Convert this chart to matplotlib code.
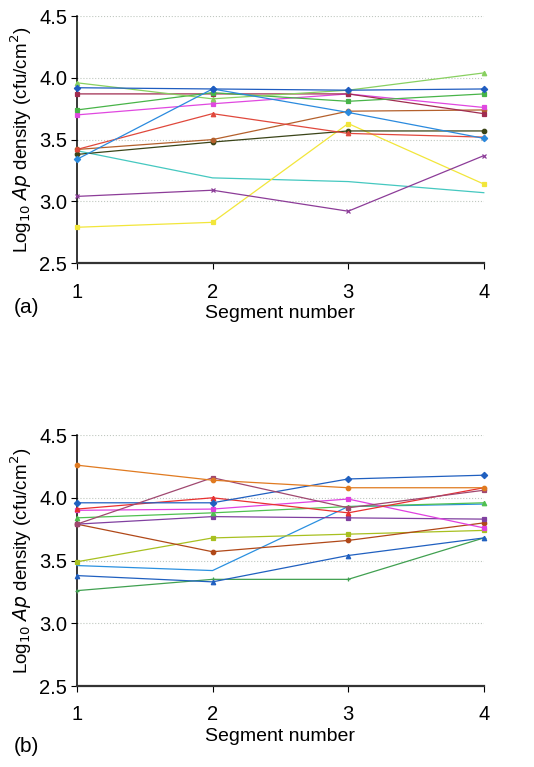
import matplotlib.pyplot as plt

plt.rcParams['font.family'] = ['Liberation Sans', 'DejaVu Sans']

segments = [1, 2, 3, 4]

# panel (a): one list per sample, log10 Ap density at segments 1-4
a_blue_dark = [3.92, 3.91, 3.90, 3.91]
a_blue_light = [3.34, 3.91, 3.72, 3.51]
a_green_light = [3.96, 3.83, 3.90, 4.04]
a_green = [3.74, 3.88, 3.81, 3.87]
a_maroon = [3.87, 3.87, 3.87, 3.71]
a_magenta = [3.70, 3.79, 3.87, 3.76]
a_red = [3.42, 3.71, 3.55, 3.52]
a_brown = [3.42, 3.50, 3.73, 3.74]
a_olive = [3.38, 3.48, 3.57, 3.57]
a_teal = [3.41, 3.19, 3.16, 3.07]
a_yellow = [2.79, 2.83, 3.63, 3.14]
a_purple = [3.04, 3.09, 2.92, 3.37]

# panel (b)
b_orange = [4.26, 4.14, 4.08, 4.08]
b_mauve = [3.79, 4.16, 3.92, 4.06]
b_blue_dark = [3.96, 3.96, 4.15, 4.18]
b_red = [3.91, 4.00, 3.88, 4.08]
b_magenta = [3.90, 3.91, 3.99, 3.76]
b_green = [3.84, 3.88, 3.93, 3.96]
b_purple = [3.79, 3.85, 3.84, 3.83]
b_rust = [3.79, 3.57, 3.66, 3.80]
b_lime = [3.49, 3.68, 3.71, 3.74]
b_blue_light = [3.46, 3.42, 3.93, 3.95]
b_blue = [3.38, 3.33, 3.54, 3.68]
b_green_plus = [3.26, 3.35, 3.35, 3.68]

series_a = [
    (a_teal, '#45c8c0', None),
    (a_yellow, '#f2e63a', 's'),
    (a_purple, '#8c3c98', 'x'),
    (a_olive, '#3a4418', 'o'),
    (a_brown, '#b4602c', 'o'),
    (a_red, '#e0483c', '^'),
    (a_magenta, '#e048e0', 's'),
    (a_maroon, '#a02c50', 's'),
    (a_green, '#48b448', 's'),
    (a_green_light, '#88d060', '^'),
    (a_blue_light, '#2a8ade', 'D'),
    (a_blue_dark, '#1f5cc0', 'D'),
]

series_b = [
    (b_green_plus, '#40a050', '+'),
    (b_blue, '#2060c0', '^'),
    (b_blue_light, '#2a90e0', None),
    (b_lime, '#a8c020', 's'),
    (b_rust, '#b04818', 'o'),
    (b_purple, '#8040a0', 's'),
    (b_green, '#50c050', '^'),
    (b_magenta, '#e040e0', 's'),
    (b_red, '#e83030', '^'),
    (b_blue_dark, '#2060c0', 'D'),
    (b_mauve, '#a04870', 's'),
    (b_orange, '#e07a20', 'o'),
]


def draw_panel(ax, series):
    for vals, col, mk in series:
        ax.plot(segments, vals, color=col, lw=0.9, marker=mk, ms=3.2,
                mew=0.9, clip_on=False, zorder=3)
    ax.set_xlim(1, 4)
    ax.set_ylim(2.5, 4.5)
    ax.set_xticks(segments)
    ax.set_yticks([2.5, 3.0, 3.5, 4.0, 4.5])
    ax.set_yticklabels(['2.5', '3.0', '3.5', '4.0', '4.5'])
    for g in [3.0, 3.5, 4.0, 4.5]:
        ax.axhline(g, color='#c0c8c0', lw=0.8, ls=':', zorder=1)
    ax.spines['top'].set_visible(False)
    ax.spines['right'].set_visible(False)
    ax.spines['left'].set_linewidth(1.1)
    ax.spines['bottom'].set_linewidth(1.6)
    ax.spines['bottom'].set_color('#333333')
    ax.tick_params(axis='y', labelsize=14.5, length=4, pad=3)
    ax.tick_params(axis='x', labelsize=14.5, length=4, pad=10)
    ax.set_xlabel('Segment number', fontsize=14, labelpad=2.5)
    ax.set_ylabel(r'Log$_{10}$ $\it{Ap}$ density (cfu/cm$^2$)', fontsize=13.5,
                  labelpad=4)


fig = plt.figure(figsize=(5.34, 7.67), dpi=100)
ax1 = fig.add_axes([0.144, 0.657, 0.762, 0.322])
ax2 = fig.add_axes([0.144, 0.1056, 0.762, 0.3272])
draw_panel(ax1, series_a)
draw_panel(ax2, series_b)
fig.text(0.025, 1 - 308 / 767, '(a)', fontsize=15, va='center')
fig.text(0.025, 1 - 747 / 767, '(b)', fontsize=15, va='center')

fig.savefig('out.png', dpi=100)
